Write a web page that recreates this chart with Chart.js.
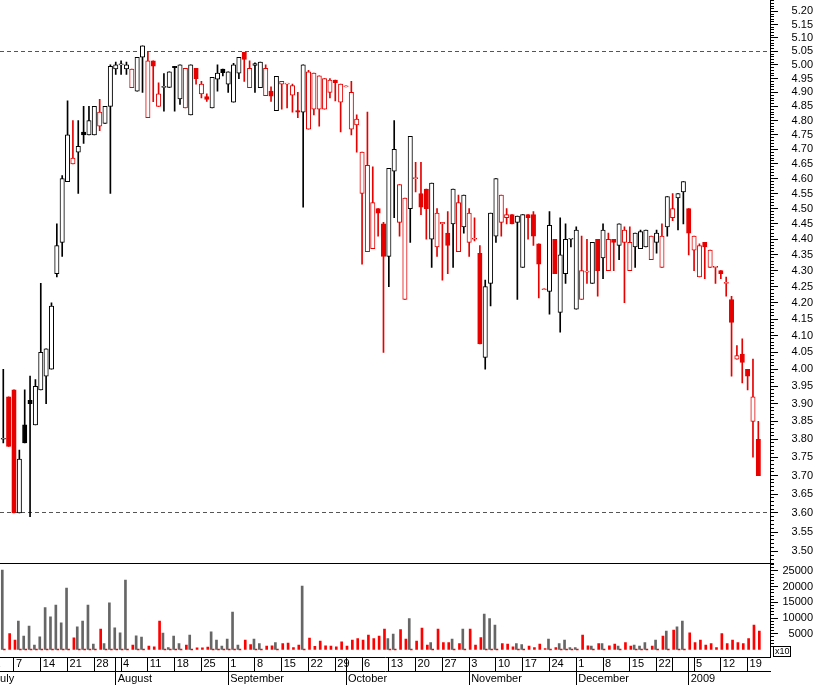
<!DOCTYPE html>
<html>
<head>
<meta charset="utf-8">
<title>Daily candlestick chart, July 2008 - January 2009</title>
<script src="https://cdn.jsdelivr.net/npm/chart.js@4.4.1/dist/chart.umd.min.js"></script>
<style>
    html, body { margin: 0; padding: 0; background: #fff; }
    #chart { display: block; }
</style>
</head>
<body>
<canvas id="chart" width="817" height="685"></canvas>
<script>
// One entry per trading day, 3 July 2008 .. 21 January 2009
const opens = [
    3.80, 3.92, 3.94, 3.60, 3.84, 3.91, 3.84, 3.94, 3.98, 4.00,
    4.29, 4.39, 4.59, 4.65, 4.69, 4.76, 4.75, 4.75, 4.78, 4.79,
    4.85, 4.985, 5.00, 4.985, 4.917, 4.905, 5.028, 4.81, 5.015, 4.85,
    4.918, 4.918, 4.995, 4.877, 4.845, 4.82, 4.987, 4.895, 4.885, 4.845,
    4.948, 4.985, 4.93, 4.865, 4.97, 5.046, 4.917, 4.998, 4.917, 4.888,
    4.905, 4.835, 4.93, 4.93, 4.89, 4.835, 4.83, 4.77, 4.84, 4.84,
    4.84, 4.90, 4.945, 4.865, 4.92, 4.77, 4.785, 4.55, 4.36, 4.37,
    4.50, 4.45, 4.345, 4.625, 4.455, 4.21, 4.50, 4.60, 4.55, 4.565,
    4.40, 4.375, 4.45, 4.42, 4.45, 4.36, 4.44, 4.39, 4.40, 4.355,
    4.035, 4.26, 4.41, 4.455, 4.47, 4.48, 4.455, 4.31, 4.48, 4.48,
    4.385, 4.24, 4.235, 4.40, 4.17, 4.29, 4.40, 4.18, 4.21, 4.295,
    4.26, 4.40, 4.34, 4.30, 4.40, 4.38, 4.39, 4.30, 4.375, 4.37,
    4.375, 4.335, 4.39, 4.31, 4.44, 4.47, 4.535, 4.555, 4.50, 4.365,
    4.28, 4.39, 4.31, 4.31, 4.30, 4.26, 4.21, 4.03, 4.045, 4.00,
    3.85, 3.80
];
const highs = [
    4.00, 3.92, 3.94, 3.77, 3.94, 3.98, 3.97, 4.26, 4.06, 4.20,
    4.45, 4.61, 4.87, 4.80, 4.80, 4.85, 4.85, 4.85, 4.875, 4.85,
    5.00, 5.01, 5.015, 5.01, 4.985, 5.028, 5.07, 5.05, 5.015, 4.935,
    4.968, 4.975, 4.995, 5.00, 4.987, 5.00, 4.987, 4.94, 4.895, 4.955,
    5.00, 4.985, 4.975, 5.006, 5.028, 5.046, 5.015, 5.008, 5.01, 5.00,
    4.92, 4.958, 4.94, 4.93, 4.93, 4.90, 5.00, 4.98, 4.97, 4.96,
    4.95, 4.95, 4.945, 4.93, 4.92, 4.94, 4.82, 4.69, 4.83, 4.64,
    4.50, 4.455, 4.635, 4.80, 4.58, 4.535, 4.745, 4.655, 4.655, 4.565,
    4.585, 4.50, 4.455, 4.49, 4.565, 4.545, 4.545, 4.50, 4.47, 4.38,
    4.27, 4.485, 4.60, 4.545, 4.50, 4.48, 4.475, 4.48, 4.48, 4.49,
    4.385, 4.24, 4.49, 4.40, 4.47, 4.45, 4.40, 4.44, 4.41, 4.40,
    4.39, 4.40, 4.45, 4.42, 4.40, 4.45, 4.44, 4.44, 4.42, 4.43,
    4.43, 4.41, 4.43, 4.45, 4.54, 4.55, 4.55, 4.59, 4.50, 4.41,
    4.385, 4.39, 4.365, 4.31, 4.30, 4.28, 4.22, 4.07, 4.09, 4.00,
    4.03, 3.85
];
const lows = [
    3.79, 3.78, 3.60, 3.60, 3.79, 3.59, 3.84, 3.94, 3.90, 4.00,
    4.28, 4.345, 4.59, 4.65, 4.55, 4.72, 4.75, 4.75, 4.765, 4.79,
    4.55, 4.965, 4.965, 4.965, 4.917, 4.905, 4.90, 4.81, 4.867, 4.85,
    4.833, 4.918, 4.833, 4.857, 4.845, 4.82, 4.93, 4.88, 4.868, 4.845,
    4.905, 4.96, 4.90, 4.865, 4.95, 4.94, 4.917, 4.90, 4.917, 4.888,
    4.868, 4.835, 4.84, 4.845, 4.83, 4.81, 4.505, 4.77, 4.82, 4.78,
    4.84, 4.88, 4.87, 4.76, 4.92, 4.75, 4.69, 4.32, 4.36, 4.37,
    4.41, 4.05, 4.25, 4.47, 4.41, 4.21, 4.39, 4.555, 4.48, 4.40,
    4.31, 4.345, 4.27, 4.29, 4.31, 4.36, 4.42, 4.345, 4.395, 4.075,
    4.00, 4.19, 4.39, 4.41, 4.45, 4.45, 4.21, 4.31, 4.40, 4.38,
    4.215, 4.24, 4.165, 4.29, 4.11, 4.26, 4.375, 4.18, 4.21, 4.26,
    4.26, 4.22, 4.275, 4.30, 4.30, 4.335, 4.20, 4.30, 4.31, 4.37,
    4.375, 4.335, 4.355, 4.31, 4.41, 4.46, 4.43, 4.45, 4.35, 4.30,
    4.28, 4.275, 4.31, 4.26, 4.275, 4.22, 3.98, 4.03, 3.96, 3.94,
    3.75, 3.70
];
const closes = [
    3.80, 3.78, 3.60, 3.745, 3.79, 3.90, 3.95, 4.05, 4.06, 4.19,
    4.38, 4.60, 4.75, 4.67, 4.71, 4.75, 4.80, 4.85, 4.83, 4.85,
    4.995, 5.00, 5.00, 5.00, 4.985, 5.028, 5.07, 5.015, 4.995, 4.895,
    4.918, 4.975, 4.99, 5.00, 4.987, 5.00, 4.95, 4.93, 4.875, 4.955,
    4.97, 4.972, 4.975, 5.00, 5.028, 5.02, 4.987, 5.005, 5.01, 4.987,
    4.887, 4.958, 4.94, 4.93, 4.925, 4.83, 5.00, 4.975, 4.97, 4.96,
    4.95, 4.945, 4.935, 4.93, 4.92, 4.90, 4.805, 4.69, 4.645, 4.52,
    4.485, 4.345, 4.635, 4.70, 4.58, 4.535, 4.745, 4.60, 4.505, 4.50,
    4.585, 4.485, 4.455, 4.38, 4.565, 4.52, 4.545, 4.485, 4.40, 4.075,
    4.25, 4.485, 4.60, 4.545, 4.48, 4.45, 4.475, 4.48, 4.47, 4.41,
    4.32, 4.24, 4.445, 4.29, 4.35, 4.40, 4.40, 4.43, 4.30, 4.295,
    4.39, 4.30, 4.43, 4.40, 4.39, 4.45, 4.43, 4.39, 4.42, 4.425,
    4.43, 4.41, 4.42, 4.41, 4.54, 4.50, 4.55, 4.59, 4.42, 4.41,
    4.38, 4.375, 4.365, 4.31, 4.29, 4.26, 4.14, 4.04, 4.02, 3.98,
    3.92, 3.70
];
const volumes = [
    25300, 5100, 2970, 9030, 4250, 7430, 1380, 4040, 13380, 10400,
    14120, 8500, 19540, 3720, 7220, 9030, 14120, 1700, 6480, 1910,
    14870, 6900, 5310, 22090, 1380, 4350, 3930, 1060, 850, 9030,
    5200, 640, 4250, 1910, 1380, 4570, 530, 530, 740, 5630,
    2970, 1060, 3290, 11890, 1380, 2970, 1590, 3290, 1910, 1060,
    1170, 2230, 1910, 2020, 640, 1380, 20180, 3610, 1000, 2650,
    1170, 1060, 850, 2440, 1060, 2970, 3500, 2970, 4570, 3500,
    4250, 6480, 3500, 4890, 6370, 3290, 9880, 2650, 6800, 1380,
    2230, 6480, 2230, 2230, 3290, 1910, 6480, 6480, 1380, 3820,
    11260, 9880, 7750, 1910, 1700, 850, 1910, 1590, 1060, 640,
    1700, 320, 3290, 640, 1910, 2970, 640, 640, 4570, 1170,
    1060, 1910, 1910, 1170, 1700, 1060, 2230, 1060, 1380, 1060,
    2230, 1060, 2970, 4250, 5840, 6160, 7220, 9030, 5310, 2230,
    2970, 1380, 1910, 640, 5100, 1910, 2970, 2230, 1910, 3500,
    7750, 5840
];

// dashed reference levels on the price panel
const refLevels = [5.05, 3.60];

// calendar
const calendarStart = '2008-07-01';
const firstDataDay = '2008-07-03';
const holidays = ['2008-12-25', '2008-12-26', '2009-01-01'];
const hiddenDayLabels = ['2008-12-29'];
const monthNames = ['January', 'February', 'March', 'April', 'May', 'June',
    'July', 'August', 'September', 'October', 'November', 'December'];

// axis ranges
const PRICE_MIN = 3.4696, PRICE_MAX = 5.2436;
const VOL_MIN = -2389, VOL_MAX = 27452;
const X_MIN = 1.386, X_MAX = 145.18;

const BLACK = '#000000';
const RED = '#e60000';
const VOL_GREY = '#666666';
const VOL_RED = '#ff0000';

Chart.defaults.font.family = "'Liberation Sans', Arial, sans-serif";
Chart.defaults.font.size = 11;
Chart.defaults.color = '#000';

function tradingDays(start, count) {
    const days = [];
    const d = new Date(start + 'T00:00:00Z');
    while (days.length < count) {
        const iso = d.toISOString().slice(0, 10);
        const dow = d.getUTCDay();
        if (dow !== 0 && dow !== 6 && !holidays.includes(iso)) days.push(iso);
        d.setUTCDate(d.getUTCDate() + 1);
    }
    return days;
}

const calendar = tradingDays(calendarStart, closes.length + 2);
const offset = calendar.indexOf(firstDataDay);

// tick lists for the two date rows
const dayTicks = [];
const monthTicks = [];
calendar.forEach((iso, k) => {
    const d = new Date(iso + 'T00:00:00Z');
    const prev = k ? new Date(calendar[k - 1] + 'T00:00:00Z') : null;
    const newWeek = !prev || d.getUTCDay() <= prev.getUTCDay();
    const newMonth = !prev || d.getUTCMonth() !== prev.getUTCMonth();
    if (newWeek || newMonth) {
        dayTicks.push({ value: k, label: newWeek && !hiddenDayLabels.includes(iso) ? String(d.getUTCDate()) : '' });
    }
    if (newMonth) {
        monthTicks.push({ value: k, label: d.getUTCMonth() === 0 ? String(d.getUTCFullYear()) : monthNames[d.getUTCMonth()] });
    }
});

const priceTicks = [];
for (let k = 347; k <= 524; k++) priceTicks.push(k / 100);
const volTicks = [];
for (let v = 1000; v <= 27000; v += 1000) volTicks.push(v);
volTicks.push(VOL_MAX);

// candle colours: red when the close is below the previous close, filled when close < open
const dayColor = closes.map((c, i) => (i > 0 && c < closes[i - 1]) ? RED : BLACK);
const bodyFill = closes.map((c, i) => c < opens[i] ? dayColor[i] : '#ffffff');

const isRef = v => refLevels.some(r => Math.abs(r - v) < 1e-6);
const isMajorPrice = v => Math.round(v * 100) % 5 === 0;

const unitBox = {
    id: 'unitBox',
    afterDraw(chart) {
        const { ctx, chartArea } = chart;
        const left = chartArea.right + 3.5;
        const top = chartArea.bottom - 10.5;
        ctx.save();
        ctx.strokeStyle = '#000';
        ctx.lineWidth = 1;
        ctx.strokeRect(left, top, 17, 10);
        ctx.fillStyle = '#000';
        ctx.font = "9px 'Liberation Sans', Arial, sans-serif";
        ctx.textBaseline = 'middle';
        ctx.fillText('x10', left + 1.5, top + 5.5);
        ctx.restore();
    }
};

new Chart(document.getElementById('chart'), {
    type: 'bar',
    data: {
        datasets: [
            {
                label: 'body',
                data: opens.map((o, i) => ({ x: i + offset, y: [o, closes[i]] })),
                yAxisID: 'y',
                backgroundColor: bodyFill,
                borderColor: dayColor,
                borderWidth: 1,
                borderSkipped: false,
                grouped: false,
                barThickness: 4.4,
                maxBarThickness: 4.4,
                minBarLength: 1,
                order: 1
            },
            {
                label: 'wick',
                data: highs.map((h, i) => ({ x: i + offset, y: [lows[i], h] })),
                yAxisID: 'y',
                backgroundColor: dayColor,
                borderWidth: 0,
                grouped: false,
                barThickness: 1,
                maxBarThickness: 1,
                minBarLength: 1,
                order: 2
            },
            {
                label: 'volume up',
                data: volumes.map((v, i) => ({ x: i + offset, y: dayColor[i] === BLACK ? v : null })),
                yAxisID: 'yVol',
                backgroundColor: VOL_GREY,
                barThickness: 2,
                order: 3
            },
            {
                label: 'volume down',
                data: volumes.map((v, i) => ({ x: i + offset, y: dayColor[i] === RED ? v : 0 })),
                yAxisID: 'yVol',
                backgroundColor: VOL_RED,
                barThickness: 2,
                minBarLength: 1,
                order: 3
            }
        ]
    },
    options: {
        responsive: false,
        animation: false,
        devicePixelRatio: 1,
        layout: { padding: { left: 0, top: 0, right: 4, bottom: 0 } },
        plugins: { legend: { display: false }, tooltip: { enabled: false } },
        scales: {
            x: {
                type: 'linear',
                position: 'bottom',
                min: X_MIN,
                max: X_MAX,
                offset: false,
                weight: 0,
                afterBuildTicks: axis => { axis.ticks = dayTicks.map(t => ({ value: t.value })); },
                afterFit: axis => { axis.height = 14; axis.paddingLeft = 0; axis.paddingRight = 0; },
                grid: { drawOnChartArea: false, offset: false, tickLength: 14, color: BLACK },
                border: { display: true, color: BLACK },
                ticks: {
                    autoSkip: false,
                    maxRotation: 0,
                    align: 'start',
                    labelOffset: 2,
                    padding: -14,
                    callback: v => (dayTicks.find(t => t.value === v) || {}).label || ''
                }
            },
            x2: {
                type: 'linear',
                position: 'bottom',
                min: X_MIN,
                max: X_MAX,
                offset: false,
                weight: 1,
                afterBuildTicks: axis => { axis.ticks = monthTicks.map(t => ({ value: t.value })); },
                afterFit: axis => { axis.height = 14; axis.paddingLeft = 0; axis.paddingRight = 0; },
                grid: { drawOnChartArea: false, offset: false, tickLength: 14, color: BLACK },
                border: { display: true, color: BLACK },
                ticks: {
                    autoSkip: false,
                    maxRotation: 0,
                    align: 'start',
                    labelOffset: 2,
                    padding: -13,
                    callback: v => (monthTicks.find(t => t.value === v) || {}).label || ''
                }
            },
            y: {
                type: 'logarithmic',
                position: 'right',
                stack: 'right',
                stackWeight: 563.3,
                min: PRICE_MIN,
                max: PRICE_MAX,
                afterBuildTicks: axis => { axis.ticks = priceTicks.map(v => ({ value: v })); },
                afterFit: axis => { axis.width = 43; axis.paddingTop = 0; axis.paddingBottom = 0; },
                grid: {
                    drawOnChartArea: true,
                    tickLength: 8,
                    color: c => isRef(c.tick.value) ? '#555555' : 'rgba(0,0,0,0)',
                    tickColor: BLACK,
                    tickBorderDash: c => isMajorPrice(c.tick.value) ? [] : [3, 30]
                },
                border: { display: true, color: BLACK, dash: [4, 3] },
                ticks: {
                    autoSkip: false,
                    crossAlign: 'far',
                    callback: v => (isMajorPrice(v) && v >= 3.495 && v <= 5.205) ? v.toFixed(2) : ''
                }
            },
            yVol: {
                type: 'linear',
                position: 'right',
                stack: 'right',
                stackWeight: 93.7,
                min: VOL_MIN,
                max: VOL_MAX,
                afterBuildTicks: axis => { axis.ticks = volTicks.map(v => ({ value: v })); },
                afterFit: axis => { axis.width = 43; axis.paddingTop = 0; axis.paddingBottom = 0; },
                grid: {
                    drawOnChartArea: true,
                    tickLength: 8,
                    color: c => c.tick.value === VOL_MAX ? BLACK : 'rgba(0,0,0,0)',
                    tickColor: c => c.tick.value === VOL_MAX ? 'rgba(0,0,0,0)' : BLACK,
                    tickBorderDash: c => c.tick.value % 5000 === 0 ? [] : [3, 30]
                },
                border: { display: true, color: BLACK },
                ticks: {
                    autoSkip: false,
                    crossAlign: 'far',
                    callback: v => (v % 5000 === 0 && v > 0) ? String(v) : ''
                }
            }
        }
    },
    plugins: [unitBox]
});
</script>
</body>
</html>
